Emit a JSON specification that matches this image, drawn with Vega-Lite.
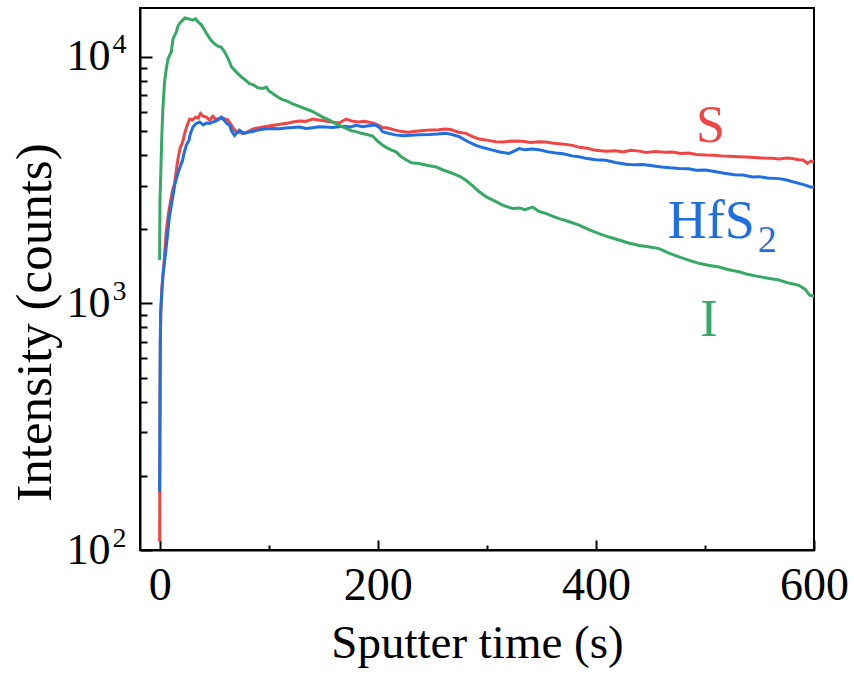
{
  "$schema": "https://vega.github.io/schema/vega-lite/v6.json",
  "width": 674,
  "height": 542,
  "autosize": {"type": "none"},
  "padding": {"left": 140, "top": 8, "right": 40, "bottom": 128},
  "background": "white",
  "config": {
    "view": {"stroke": "black", "strokeWidth": 2},
    "axis": {"grid": false, "domainColor": "black", "domainWidth": 2, "tickColor": "black", "tickWidth": 2, "labelColor": "black", "titleColor": "black", "labelFont": "Times New Roman, Liberation Serif, Times, serif", "titleFont": "Times New Roman, Liberation Serif, Times, serif", "titleFontWeight": "normal", "labelFlush": false, "labelOverlap": false}
  },
  "datasets": {
    "S": [
      {"t":0,"v":108},{"t":0.3,"v":300},{"t":0.6,"v":650},{"t":1,"v":900},{"t":2,"v":1150},{"t":4,"v":1450},{"t":6,"v":1950},{"t":8,"v":2300},{"t":10,"v":2600},{"t":12,"v":2900},{"t":13.7,"v":3050},{"t":15,"v":3400},{"t":17,"v":3900},{"t":19,"v":4300},{"t":21,"v":4500},{"t":23,"v":4900},{"t":25,"v":5250},{"t":27.5,"v":5600},{"t":30,"v":5550},{"t":33,"v":5700},{"t":35.5,"v":5650},{"t":37.5,"v":5900},{"t":40,"v":5750},{"t":42.8,"v":5700},{"t":45.8,"v":5550},{"t":48.8,"v":5750},{"t":51,"v":5600},{"t":55,"v":5600},{"t":58,"v":5650},{"t":62.6,"v":5550},{"t":65,"v":5350},{"t":68.7,"v":5050},{"t":72,"v":4950},{"t":76.3,"v":4900},{"t":80,"v":4950},{"t":85.4,"v":5100},{"t":90,"v":5150},{"t":95,"v":5200},{"t":100,"v":5250},{"t":106,"v":5300},{"t":112,"v":5350},{"t":118,"v":5400},{"t":122,"v":5450},{"t":128,"v":5500},{"t":134,"v":5480},{"t":140.4,"v":5600},{"t":146,"v":5550},{"t":152,"v":5500},{"t":158,"v":5450},{"t":164.8,"v":5400},{"t":171,"v":5600},{"t":176,"v":5500},{"t":182,"v":5450},{"t":188,"v":5480},{"t":195.3,"v":5400},{"t":200,"v":5300},{"t":204,"v":5180},{"t":209,"v":5150},{"t":216,"v":5050},{"t":222,"v":4980},{"t":228,"v":4950},{"t":235,"v":5000},{"t":242,"v":5030},{"t":248,"v":5060},{"t":256,"v":5070},{"t":262,"v":5100},{"t":267,"v":5080},{"t":274,"v":4950},{"t":280.9,"v":4900},{"t":287,"v":4750},{"t":293,"v":4650},{"t":300,"v":4600},{"t":308.3,"v":4530},{"t":315,"v":4520},{"t":322,"v":4560},{"t":332.7,"v":4550},{"t":340,"v":4500},{"t":348,"v":4530},{"t":354,"v":4520},{"t":360,"v":4480},{"t":366.3,"v":4450},{"t":372,"v":4420},{"t":378.5,"v":4380},{"t":385,"v":4300},{"t":392,"v":4260},{"t":400,"v":4180},{"t":409,"v":4150},{"t":418,"v":4160},{"t":425,"v":4120},{"t":432,"v":4180},{"t":439.6,"v":4150},{"t":446,"v":4100},{"t":455,"v":4140},{"t":463,"v":4110},{"t":470,"v":4120},{"t":478,"v":4060},{"t":485,"v":4080},{"t":492,"v":4020},{"t":500.6,"v":4000},{"t":508,"v":3990},{"t":515,"v":3970},{"t":522,"v":3960},{"t":531.1,"v":3940},{"t":538,"v":3930},{"t":545,"v":3910},{"t":553,"v":3890},{"t":561.6,"v":3880},{"t":568,"v":3860},{"t":575,"v":3890},{"t":580,"v":3870},{"t":586,"v":3830},{"t":590,"v":3820},{"t":594,"v":3700},{"t":597,"v":3780},{"t":600,"v":3760}
    ],
    "HfS2": [
      {"t":0,"v":172},{"t":0.3,"v":400},{"t":0.6,"v":700},{"t":1,"v":930},{"t":3,"v":1300},{"t":6.1,"v":1700},{"t":9,"v":2250},{"t":12,"v":2700},{"t":14,"v":3050},{"t":15.3,"v":3200},{"t":17,"v":3400},{"t":19,"v":3600},{"t":21,"v":3800},{"t":22,"v":4000},{"t":24.4,"v":4380},{"t":27,"v":4600},{"t":28,"v":4850},{"t":30.5,"v":5200},{"t":33,"v":5350},{"t":36.6,"v":5450},{"t":40,"v":5300},{"t":43,"v":5400},{"t":46,"v":5380},{"t":48.8,"v":5450},{"t":52,"v":5500},{"t":56.5,"v":5710},{"t":59,"v":5550},{"t":62,"v":5350},{"t":64.1,"v":5280},{"t":66,"v":5000},{"t":68.7,"v":4800},{"t":71,"v":4950},{"t":73.3,"v":5050},{"t":77,"v":4900},{"t":81,"v":4950},{"t":85.4,"v":4980},{"t":90,"v":5050},{"t":96,"v":5100},{"t":103.8,"v":5130},{"t":110,"v":5120},{"t":116,"v":5150},{"t":122,"v":5180},{"t":128,"v":5200},{"t":134.3,"v":5130},{"t":140,"v":5160},{"t":146.5,"v":5210},{"t":152,"v":5200},{"t":158,"v":5180},{"t":164.8,"v":5210},{"t":170,"v":5240},{"t":175,"v":5200},{"t":180.1,"v":5280},{"t":186,"v":5210},{"t":190,"v":5250},{"t":195.3,"v":5280},{"t":198.4,"v":5280},{"t":202,"v":5150},{"t":204.5,"v":4980},{"t":210,"v":4900},{"t":216,"v":4830},{"t":222.8,"v":4790},{"t":230,"v":4810},{"t":238,"v":4840},{"t":247.3,"v":4850},{"t":255,"v":4870},{"t":262.5,"v":4900},{"t":268,"v":4850},{"t":274.7,"v":4750},{"t":282,"v":4550},{"t":290,"v":4380},{"t":297,"v":4280},{"t":305.2,"v":4190},{"t":312,"v":4120},{"t":320.5,"v":4060},{"t":325,"v":4150},{"t":329.7,"v":4250},{"t":335,"v":4200},{"t":341,"v":4230},{"t":348,"v":4200},{"t":355,"v":4130},{"t":363.3,"v":4080},{"t":370,"v":4050},{"t":378,"v":3970},{"t":384.6,"v":3940},{"t":392,"v":3870},{"t":400,"v":3830},{"t":409,"v":3810},{"t":418,"v":3730},{"t":427.4,"v":3670},{"t":435,"v":3650},{"t":443,"v":3660},{"t":451.8,"v":3620},{"t":460,"v":3580},{"t":468,"v":3550},{"t":476.2,"v":3530},{"t":485,"v":3520},{"t":492,"v":3470},{"t":500.6,"v":3480},{"t":510,"v":3420},{"t":519,"v":3370},{"t":527,"v":3330},{"t":535,"v":3320},{"t":543.3,"v":3260},{"t":550,"v":3270},{"t":557,"v":3230},{"t":567.8,"v":3210},{"t":575,"v":3170},{"t":580,"v":3120},{"t":586.1,"v":3070},{"t":592,"v":3020},{"t":596.8,"v":2970},{"t":600,"v":2960}
    ],
    "I": [
      {"t":0,"v":1500},{"t":0.3,"v":2600},{"t":1,"v":3300},{"t":2,"v":4800},{"t":3,"v":6200},{"t":4.5,"v":7900},{"t":6,"v":8900},{"t":7.6,"v":9800},{"t":10.7,"v":10500},{"t":12.2,"v":11800},{"t":15.3,"v":12650},{"t":17,"v":13400},{"t":19,"v":13800},{"t":21.3,"v":14100},{"t":23,"v":14400},{"t":25.9,"v":14300},{"t":28,"v":14200},{"t":30.5,"v":14100},{"t":33,"v":14300},{"t":35,"v":13900},{"t":38.2,"v":13500},{"t":41,"v":12900},{"t":44.3,"v":12200},{"t":47,"v":11700},{"t":50.4,"v":11300},{"t":53,"v":11100},{"t":56.5,"v":10950},{"t":59,"v":10600},{"t":62.6,"v":9900},{"t":66,"v":9100},{"t":70.2,"v":8700},{"t":74.8,"v":8300},{"t":78,"v":8100},{"t":82.4,"v":7800},{"t":86,"v":7700},{"t":90,"v":7500},{"t":94.6,"v":7450},{"t":98,"v":7550},{"t":100,"v":7300},{"t":104,"v":7100},{"t":108,"v":6900},{"t":112.9,"v":6700},{"t":116,"v":6650},{"t":122,"v":6450},{"t":128,"v":6300},{"t":134.3,"v":6150},{"t":140.4,"v":6000},{"t":145,"v":5850},{"t":149.5,"v":5700},{"t":155.7,"v":5550},{"t":160,"v":5400},{"t":164.8,"v":5280},{"t":171,"v":5130},{"t":176,"v":5020},{"t":180.1,"v":4980},{"t":185,"v":4900},{"t":190,"v":4850},{"t":195.3,"v":4780},{"t":200,"v":4550},{"t":204,"v":4400},{"t":207.6,"v":4300},{"t":212,"v":4200},{"t":216.8,"v":4120},{"t":221,"v":3950},{"t":225.9,"v":3830},{"t":231,"v":3720},{"t":238.1,"v":3700},{"t":245,"v":3640},{"t":253.4,"v":3580},{"t":260,"v":3480},{"t":268.6,"v":3370},{"t":275,"v":3280},{"t":280.9,"v":3160},{"t":287,"v":3000},{"t":293,"v":2840},{"t":300,"v":2700},{"t":308.3,"v":2590},{"t":315,"v":2500},{"t":323.5,"v":2430},{"t":330,"v":2440},{"t":335,"v":2400},{"t":341.9,"v":2460},{"t":348,"v":2360},{"t":354.1,"v":2320},{"t":360,"v":2260},{"t":366.3,"v":2210},{"t":375,"v":2150},{"t":384.6,"v":2080},{"t":393,"v":2000},{"t":402.9,"v":1920},{"t":412,"v":1860},{"t":421.2,"v":1810},{"t":430,"v":1760},{"t":439.6,"v":1720},{"t":448,"v":1700},{"t":457.9,"v":1670},{"t":467,"v":1600},{"t":476.2,"v":1545},{"t":485,"v":1500},{"t":494.5,"v":1455},{"t":503,"v":1430},{"t":512.8,"v":1405},{"t":522,"v":1370},{"t":531.1,"v":1345},{"t":540,"v":1310},{"t":549.5,"v":1285},{"t":558,"v":1265},{"t":567.8,"v":1245},{"t":577,"v":1210},{"t":586.1,"v":1185},{"t":592,"v":1140},{"t":596,"v":1080},{"t":600,"v":1070}
    ],
    "labels": [
      {"label":"S","series":"S","t":505,"v":4540},
      {"label":"I","series":"I","t":503.7,"v":741}
    ],
    "labelsHfS": [
      {"label":"HfS","series":"HfS2","t":466,"v":1835}
    ],
    "labelsSub": [
      {"label":"2","series":"HfS2","t":548.5,"v":1611}
    ]
  },
  "resolve": {"scale": {"x": "shared", "y": "shared", "color": "shared"}, "axis": {"x": "independent", "y": "independent"}},
  "layer": [
    {
      "data": {"name": "S"},
      "mark": {"type": "line", "stroke": "#ef4545", "strokeWidth": 3},
      "encoding": {
        "x": {"field": "t", "type": "quantitative", "scale": {"domain": [-18, 600], "nice": false, "zero": false},
          "axis": {"orient": "bottom", "values": [0, 200, 400, 600], "tickSize": -10, "labelPadding": 59, "labelBaseline": "alphabetic", "labelFontSize": 46, "title": "Sputter time (s)", "titleFontSize": 47, "titleBaseline": "alphabetic", "titleY": 107}},
        "y": {"field": "v", "type": "quantitative", "scale": {"type": "log", "domain": [100, 15800], "nice": false},
          "axis": {"orient": "left", "values": [100, 1000, 10000], "labelExpr": "'10'", "tickSize": -12, "labelPadding": 42, "labelFontSize": 44, "title": "Intensity (counts)", "titleFontSize": 51, "titleBaseline": "alphabetic", "titleX": -90, "titleY": 314}}
      }
    },
    {
      "data": {"name": "HfS2"},
      "mark": {"type": "line", "stroke": "#1f6fe0", "strokeWidth": 3},
      "encoding": {
        "x": {"field": "t", "type": "quantitative",
          "axis": {"orient": "bottom", "values": [100, 300, 500], "labels": false, "tickSize": -5, "domain": false, "title": null}},
        "y": {"field": "v", "type": "quantitative",
          "axis": {"orient": "left", "values": [100, 1000, 10000], "labelExpr": "datum.value < 500 ? '2' : datum.value < 5000 ? '3' : '4'", "ticks": false, "domain": false, "labelPadding": 14, "labelOffset": -12, "labelFontSize": 28, "title": null}}
      }
    },
    {
      "data": {"name": "I"},
      "mark": {"type": "line", "stroke": "#37a966", "strokeWidth": 3},
      "encoding": {
        "x": {"field": "t", "type": "quantitative", "axis": null},
        "y": {"field": "v", "type": "quantitative",
          "axis": {"orient": "left", "values": [200, 300, 400, 500, 600, 700, 800, 900, 2000, 3000, 4000, 5000, 6000, 7000, 8000, 9000], "labels": false, "tickSize": -7, "domain": false, "title": null}}
      }
    },
    {
      "data": {"name": "labels"},
      "mark": {"type": "text", "font": "Times New Roman, Liberation Serif, Times, serif", "fontSize": 52, "align": "center", "baseline": "alphabetic"},
      "encoding": {
        "x": {"field": "t", "type": "quantitative", "axis": null},
        "y": {"field": "v", "type": "quantitative", "axis": null},
        "text": {"field": "label"},
        "color": {"field": "series", "type": "nominal", "scale": {"domain": ["S", "HfS2", "I"], "range": ["#ef4545", "#1f6fe0", "#37a966"]}, "legend": null}
      }
    },
    {
      "data": {"name": "labelsHfS"},
      "mark": {"type": "text", "font": "Times New Roman, Liberation Serif, Times, serif", "fontSize": 54, "align": "left", "baseline": "alphabetic"},
      "encoding": {
        "x": {"field": "t", "type": "quantitative", "axis": null},
        "y": {"field": "v", "type": "quantitative", "axis": null},
        "text": {"field": "label"},
        "color": {"field": "series", "type": "nominal", "legend": null}
      }
    },
    {
      "data": {"name": "labelsSub"},
      "mark": {"type": "text", "font": "Times New Roman, Liberation Serif, Times, serif", "fontSize": 38, "align": "left", "baseline": "alphabetic"},
      "encoding": {
        "x": {"field": "t", "type": "quantitative", "axis": null},
        "y": {"field": "v", "type": "quantitative", "axis": null},
        "text": {"field": "label"},
        "color": {"field": "series", "type": "nominal", "legend": null}
      }
    }
  ]
}
